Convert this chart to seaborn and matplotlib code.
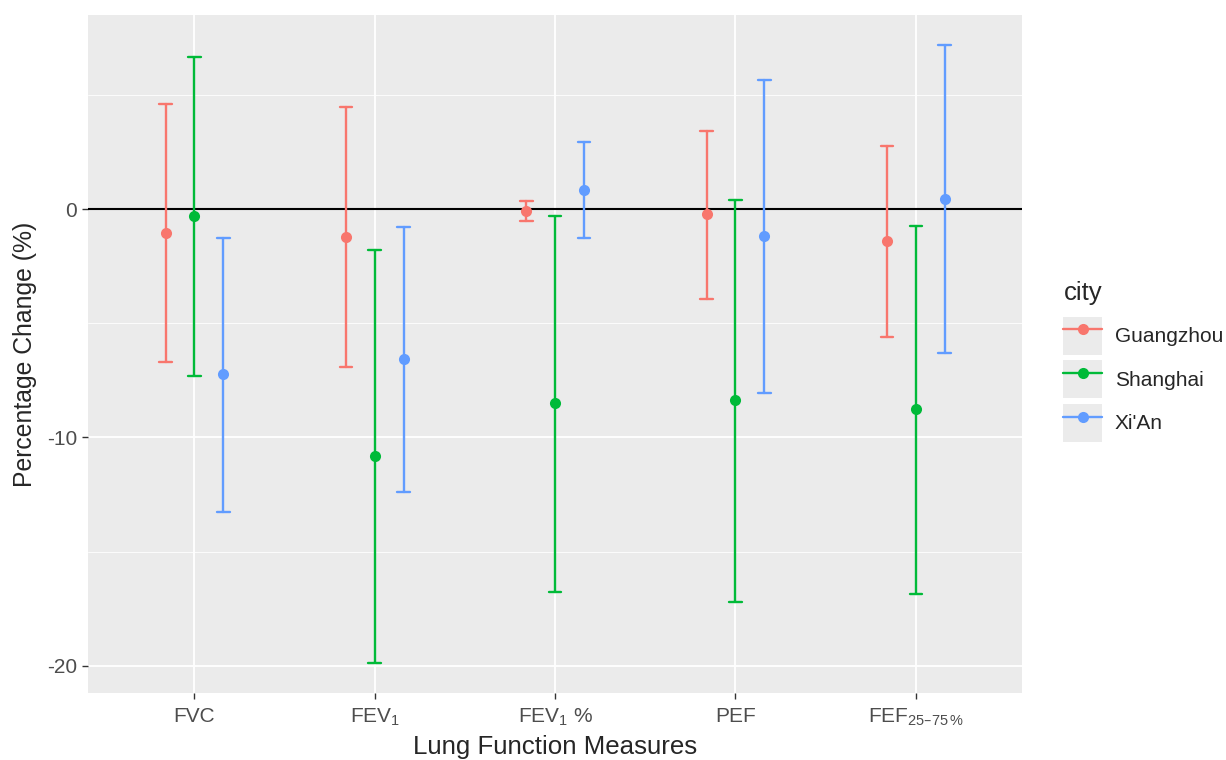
import numpy as np
import pandas as pd
import matplotlib
matplotlib.use('Agg')
import matplotlib.pyplot as plt
import seaborn as sns
from matplotlib.ticker import MultipleLocator
from matplotlib.lines import Line2D
from matplotlib.patches import Rectangle
from matplotlib.legend_handler import HandlerTuple

# values (percent change with 95% CI)
measures = ['FVC', 'FEV1', 'FEV1%', 'PEF', 'FEF25-75%']
tick_labels = ['FVC', 'FEV$_1$', 'FEV$_1$ %', 'PEF', 'FEF$_{25\u201375\\,\\%}$']
cities = ['Guangzhou', 'Shanghai', "Xi'An"]

est_gz = [-1.05, -1.23, -0.09, -0.22, -1.40]
lo_gz = [-6.70, -6.93, -0.53, -3.95, -5.61]
hi_gz = [4.60, 4.47, 0.35, 3.42, 2.76]

est_sh = [-0.30, -10.83, -8.50, -8.38, -8.77]
lo_sh = [-7.30, -19.90, -16.75, -17.20, -16.84]
hi_sh = [6.67, -1.80, -0.30, 0.39, -0.75]

est_xa = [-7.24, -6.58, 0.83, -1.18, 0.44]
lo_xa = [-13.25, -12.40, -1.27, -8.07, -6.32]
hi_xa = [-1.27, -0.79, 2.94, 5.66, 7.19]

colors = ['#F8766D', '#00BA38', '#619CFF']

rows = []
for city, est, lo, hi in zip(cities, [est_gz, est_sh, est_xa],
                             [lo_gz, lo_sh, lo_xa], [hi_gz, hi_sh, hi_xa]):
    for m, e, l, h in zip(measures, est, lo, hi):
        for v in (l, e, h):
            rows.append({'measure': m, 'city': city, 'value': v})
df = pd.DataFrame(rows)

sns.set_theme(style='darkgrid', rc={
    'axes.facecolor': '#EBEBEB',
    'grid.color': 'white',
    'xtick.bottom': True,
    'ytick.left': True,
    'xtick.major.size': 4,
    'ytick.major.size': 4,
    'xtick.color': '#333333',
    'ytick.color': '#333333',
    'mathtext.default': 'regular',
    'axes.unicode_minus': False,
})
plt.rcParams['font.family'] = ['Liberation Sans', 'DejaVu Sans']

fig = plt.figure(figsize=(12.26, 7.6), dpi=100)
ax = fig.add_axes([0.0718, 0.088, 0.762, 0.892])

# median of (lo, est, hi) = est, 100% interval = lo..hi
sns.pointplot(data=df, x='measure', y='value', hue='city', order=measures,
              hue_order=cities, palette=colors, estimator='median',
              errorbar=('pi', 100), dodge=0.32, linestyle='none',
              capsize=0.07, markersize=8, markeredgewidth=0,
              err_kws={'linewidth': 1.7}, legend=False, ax=ax)

ax.axhline(0, color='black', linewidth=1.5, zorder=1)

ax.set_xlim(-0.59, 4.59)
ax.set_ylim(-21.2, 8.5)
ax.yaxis.set_major_locator(MultipleLocator(10))
ax.yaxis.set_minor_locator(MultipleLocator(5))
ax.grid(True, which='major', axis='both', color='white', linewidth=1.3)
ax.grid(True, which='minor', axis='y', color='white', linewidth=0.6)
ax.tick_params(which='minor', length=0)
ax.tick_params(axis='both', which='major', labelsize=15, labelcolor='#4D4D4D',
               width=1, pad=4)
ax.tick_params(axis='x', which='major', pad=6)
ax.set_axisbelow(True)
for s in ax.spines.values():
    s.set_visible(False)

ax.set_xticks(range(len(measures)))
ax.set_xticklabels(tick_labels)
ax.set_xlabel('Lung Function Measures', fontsize=18.6, labelpad=5)
ax.set_ylabel('Percentage Change (%)', fontsize=17.8, labelpad=7)

handles = []
for c in colors:
    box = Rectangle((0, 0), 1, 1, facecolor='#EBEBEB', edgecolor='none')
    ln = Line2D([], [], color=c, marker='o', markersize=8,
                markeredgewidth=0, linewidth=1.7)
    handles.append((box, ln))
leg = ax.legend(handles, cities, title='city', loc='center left',
                bbox_to_anchor=(1.033, 0.489), frameon=False, fontsize=15,
                title_fontsize=18.5, handlelength=1.87, handleheight=2.43,
                labelspacing=0.27, borderpad=0, handletextpad=0.6,
                handler_map={tuple: HandlerTuple(ndivide=1, pad=0)})
leg._legend_box.align = 'left'
leg._legend_box.sep = 8

fig.savefig('out.png', dpi=100)
